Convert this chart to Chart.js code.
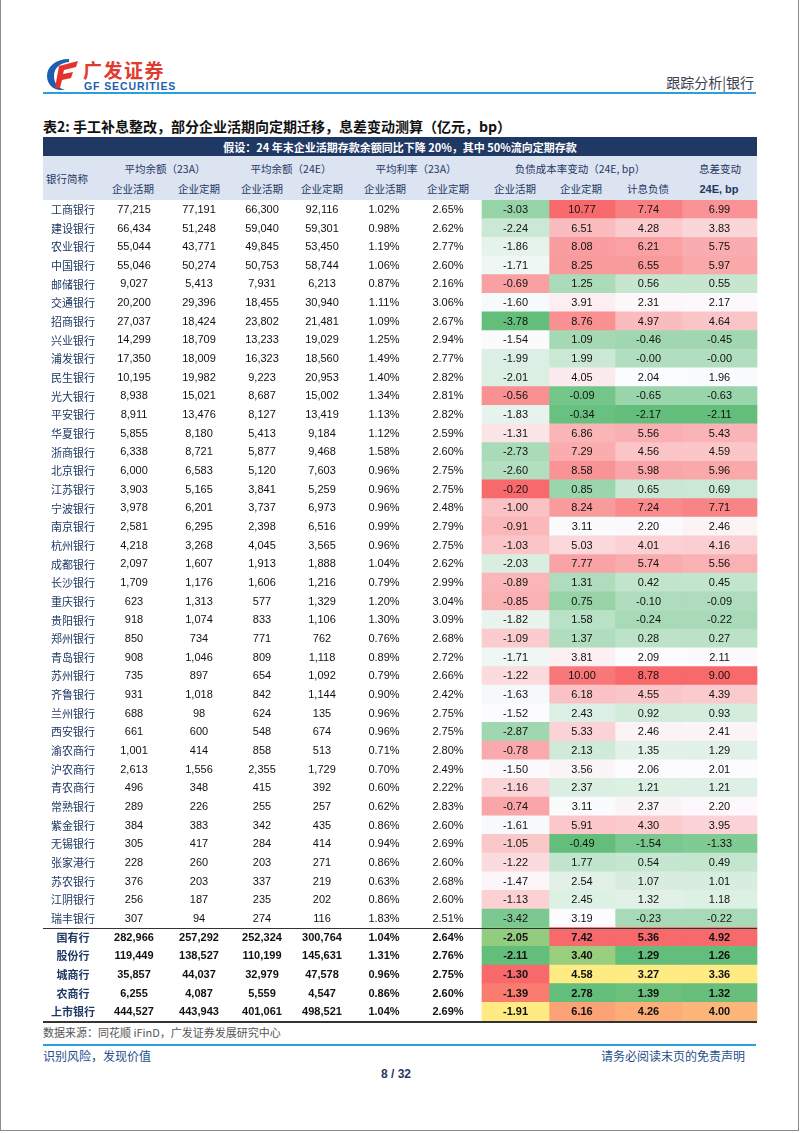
<!DOCTYPE html>
<html>
<head>
<meta charset="utf-8">
<script src="https://cdn.jsdelivr.net/npm/chart.js@4.4.1/dist/chart.umd.min.js"></script>
<style>
  body { margin: 0; background: #fff; }
  #page { position: relative; width: 802px; height: 1133px; overflow: hidden; font-family: "Noto Sans CJK SC", sans-serif; }
  .t { position: absolute; white-space: nowrap; line-height: 1; }
  .c { transform: translate(-50%, -50%); }
  .hd { font-size: 10.5px; color: #1f3864; }
  .num { font-family: "Liberation Sans", Arial, sans-serif; }
  #frame { position: absolute; left: 0; top: -2px; width: 797px; height: 1132px; border: 1px solid #8a8a8a; border-top: none; }
  #tbl { position: absolute; left: 0; top: 200px; }
</style>
</head>
<body>
<div id="page">
  <div id="frame"></div>

  <!-- logo -->
  <svg class="t" style="left:45px;top:57px" width="36" height="34" viewBox="0 0 36 34">
    <path d="M24 2 C10 2 2 10 2 19 C2 27 8 33 16 33 L20 33 C12 31 9 25 9 19 C9 11 15 6 24 5 Z" fill="#1d5fae"/>
    <path d="M14 9 L33 4 L31 10 L19 13 L18 17 L28 15 L26 21 L17 23 L15 31 L10 31 Z" fill="#e6322b"/>
  </svg>
  <div class="t" style="left:83px;top:60px;font-size:19px;font-weight:bold;color:#e23a2e;letter-spacing:1.5px">广发证券</div>
  <div class="t num" style="left:84px;top:81px;font-size:10.5px;font-weight:bold;color:#1d5fae;letter-spacing:0.9px">GF SECURITIES</div>
  <div class="t" style="right:48px;top:75px;font-size:14px;color:#3a4050">跟踪分析|银行</div>
  <div class="t" style="left:43px;top:92px;width:713px;height:2px;background:#2b9fd8"></div>

  <!-- title -->
  <div class="t" style="left:43px;top:119px;font-size:14px;font-weight:bold;color:#111">表2: 手工补息整改，部分企业活期向定期迁移，息差变动测算（亿元，bp）</div>

  <!-- header -->
  <div class="t" style="left:43px;top:137px;width:714px;height:19px;background:#1f3864"></div>
  <div class="t c" style="left:400px;top:147px;font-size:11px;font-weight:bold;color:#fff">假设：24 年末企业活期存款余额同比下降 20%，其中 50%流向定期存款</div>
  <div class="t" style="left:43px;top:156px;width:714px;height:44px;background:#dce3f1"></div>

  <div class="t c hd" style="left:67px;top:179px">银行简称</div>
  <div class="t c hd" style="left:165px;top:169px">平均余额（23A）</div>
  <div class="t c hd" style="left:291px;top:169px">平均余额（24E）</div>
  <div class="t c hd" style="left:416px;top:169px">平均利率（23A）</div>
  <div class="t c hd" style="left:580px;top:169px">负债成本率变动（24E, bp）</div>
  <div class="t c hd" style="left:720px;top:169px">息差变动</div>

  <div class="t c hd" style="left:133px;top:189px">企业活期</div>
  <div class="t c hd" style="left:199px;top:189px">企业定期</div>
  <div class="t c hd" style="left:262px;top:189px">企业活期</div>
  <div class="t c hd" style="left:322px;top:189px">企业定期</div>
  <div class="t c hd" style="left:385px;top:189px">企业活期</div>
  <div class="t c hd" style="left:448px;top:189px">企业定期</div>
  <div class="t c hd" style="left:515px;top:189px">企业活期</div>
  <div class="t c hd" style="left:581px;top:189px">企业定期</div>
  <div class="t c hd" style="left:648px;top:189px">计息负债</div>
  <div class="t c hd num" style="left:719px;top:189px;font-size:11px;font-weight:bold">24E, bp</div>

  <canvas id="tbl" width="802" height="824"></canvas>

  <!-- footer -->
  <div class="t" style="left:43px;top:1027px;font-size:11px;color:#555">数据来源：同花顺 iFinD，广发证券发展研究中心</div>
  <div class="t" style="left:43px;top:1044px;width:713px;height:2px;background:#2b9fd8"></div>
  <div class="t" style="left:43px;top:1050px;font-size:12px;color:#1f4e8c">识别风险，发现价值</div>
  <div class="t" style="right:57px;top:1050px;font-size:12px;color:#1f4e8c">请务必阅读末页的免责声明</div>
  <div class="t c num" style="left:396px;top:1074px;font-size:12px;font-weight:bold;color:#1f3864">8 / 32</div>
</div>

<script>
// rows: 39 listed banks followed by 5 group totals
const banks = ['工商银行','建设银行','农业银行','中国银行','邮储银行','交通银行','招商银行','兴业银行','浦发银行','民生银行',
  '光大银行','平安银行','华夏银行','浙商银行','北京银行','江苏银行','宁波银行','南京银行','杭州银行','成都银行',
  '长沙银行','重庆银行','贵阳银行','郑州银行','青岛银行','苏州银行','齐鲁银行','兰州银行','西安银行','渝农商行',
  '沪农商行','青农商行','常熟银行','紫金银行','无锡银行','张家港行','苏农银行','江阴银行','瑞丰银行',
  '国有行','股份行','城商行','农商行','上市银行'];
const groupRows = 5;

const demand23 = [77215,66434,55044,55046,9027,20200,27037,14299,17350,10195,8938,8911,5855,6338,6000,3903,3978,2581,4218,2097,
  1709,623,918,850,908,735,931,688,661,1001,2613,496,289,384,305,228,376,256,307,
  282966,119449,35857,6255,444527];
const time23 = [77191,51248,43771,50274,5413,29396,18424,18709,18009,19982,15021,13476,8180,8721,6583,5165,6201,6295,3268,1607,
  1176,1313,1074,734,1046,897,1018,98,600,414,1556,348,226,383,417,260,203,187,94,
  257292,138527,44037,4087,443943];
const demand24 = [66300,59040,49845,50753,7931,18455,23802,13233,16323,9223,8687,8127,5413,5877,5120,3841,3737,2398,4045,1913,
  1606,577,833,771,809,654,842,624,548,858,2355,415,255,342,284,203,337,235,274,
  252324,110199,32979,5559,401061];
const time24 = [92116,59301,53450,58744,6213,30940,21481,19029,18560,20953,15002,13419,9184,9468,7603,5259,6973,6516,3565,1888,
  1216,1329,1106,762,1118,1092,1144,135,674,513,1729,392,257,435,414,271,219,202,116,
  300764,145631,47578,4547,498521];
const rateDemand = [1.02,0.98,1.19,1.06,0.87,1.11,1.09,1.25,1.49,1.40,1.34,1.13,1.12,1.58,0.96,0.96,0.96,0.99,0.96,1.04,
  0.79,1.20,1.30,0.76,0.89,0.79,0.90,0.96,0.96,0.71,0.70,0.60,0.62,0.86,0.94,0.86,0.63,0.86,1.83,
  1.04,1.31,0.96,0.86,1.04];
const rateTime = [2.65,2.62,2.77,2.60,2.16,3.06,2.67,2.94,2.77,2.82,2.81,2.82,2.59,2.60,2.75,2.75,2.48,2.79,2.75,2.62,
  2.99,3.04,3.09,2.68,2.72,2.66,2.42,2.75,2.75,2.80,2.49,2.22,2.83,2.60,2.69,2.60,2.68,2.60,2.51,
  2.64,2.76,2.75,2.60,2.69];
const costDemand = [-3.03,-2.24,-1.86,-1.71,-0.69,-1.60,-3.78,-1.54,-1.99,-2.01,-0.56,-1.83,-1.31,-2.73,-2.60,-0.20,-1.00,-0.91,-1.03,-2.03,
  -0.89,-0.85,-1.82,-1.09,-1.71,-1.22,-1.63,-1.52,-2.87,-0.78,-1.50,-1.16,-0.74,-1.61,-1.05,-1.22,-1.47,-1.13,-3.42,
  -2.05,-2.11,-1.30,-1.39,-1.91];
const costTime = [10.77,6.51,8.08,8.25,1.25,3.91,8.76,1.09,1.99,4.05,-0.09,-0.34,6.86,7.29,8.58,0.85,8.24,3.11,5.03,7.77,
  1.31,0.75,1.58,1.37,3.81,10.00,6.18,2.43,5.33,2.13,3.56,2.37,3.11,5.91,-0.49,1.77,2.54,2.45,3.19,
  7.42,3.40,4.58,2.78,6.16];
const costTotal = [7.74,4.28,6.21,6.55,0.56,2.31,4.97,-0.46,-0.004,2.04,-0.65,-2.17,5.56,4.56,5.98,0.65,7.24,2.20,4.01,5.74,
  0.42,-0.10,-0.24,0.28,2.09,8.78,4.55,0.92,2.46,1.35,2.06,1.21,2.37,4.30,-1.54,0.54,1.07,1.32,-0.23,
  5.36,1.29,3.27,1.39,4.26];
const nimChange = [6.99,3.83,5.75,5.97,0.55,2.17,4.64,-0.45,-0.004,1.96,-0.63,-2.11,5.43,4.59,5.96,0.69,7.71,2.46,4.16,5.56,
  0.45,-0.09,-0.22,0.27,2.11,9.00,4.39,0.93,2.41,1.29,2.01,1.21,2.20,3.95,-1.33,0.49,1.01,1.18,-0.22,
  4.92,1.26,3.36,1.32,4.00];

// layout of columns (page pixels)
const bankCount = banks.length - groupRows;
const textCols = [
  { x: 134, vals: demand23, fmt: v => v.toLocaleString('en-US') },
  { x: 199, vals: time23, fmt: v => v.toLocaleString('en-US') },
  { x: 262, vals: demand24, fmt: v => v.toLocaleString('en-US') },
  { x: 322, vals: time24, fmt: v => v.toLocaleString('en-US') },
  { x: 384, vals: rateDemand, fmt: v => v.toFixed(2) + '%' },
  { x: 448, vals: rateTime, fmt: v => v.toFixed(2) + '%' }
];
const heatCols = [
  { x0: 482, x1: 549, vals: costDemand },
  { x0: 549, x1: 615, vals: costTime },
  { x0: 615, x1: 682, vals: costTotal },
  { x0: 682, x1: 757, vals: nimChange }
];

const GREEN = [99, 190, 123], WHITE = [252, 252, 255], YELLOW = [255, 235, 132], RED = [248, 105, 107];

function median(arr) {
  const s = [...arr].sort((a, b) => a - b);
  const p = (s.length - 1) / 2, lo = Math.floor(p), hi = Math.ceil(p);
  return s[lo] + (s[hi] - s[lo]) * (p - lo);
}
function mix(a, b, t) {
  return 'rgb(' + a.map((c, i) => Math.round(c + (b[i] - c) * t)).join(',') + ')';
}
function colorScale(vals, mid) {
  const min = Math.min(...vals), max = Math.max(...vals), m = median(vals);
  return vals.map(v => v <= m
    ? mix(GREEN, mid, m === min ? 1 : (v - min) / (m - min))
    : mix(mid, RED, (v - m) / (max - m)));
}

const datasets = heatCols.map(col => {
  const colors = colorScale(col.vals.slice(0, bankCount), WHITE)
    .concat(colorScale(col.vals.slice(bankCount), YELLOW));
  return {
    data: banks.map(() => [col.x0, col.x1]),
    backgroundColor: colors,
    borderWidth: 0,
    grouped: false,
    barPercentage: 1,
    categoryPercentage: 1
  };
});

const tableText = {
  id: 'tableText',
  afterDatasetsDraw(chart) {
    const { ctx, scales: { x, y }, chartArea } = chart;
    ctx.save();
    ctx.textAlign = 'center';
    ctx.textBaseline = 'middle';
    banks.forEach((name, i) => {
      const py = y.getPixelForValue(i) + 0.5;
      const bold = i >= bankCount ? 'bold ' : '';
      ctx.fillStyle = '#1f3864';
      ctx.font = bold + '11px "Noto Sans CJK SC"';
      ctx.fillText(name, x.getPixelForValue(73), py);
      ctx.fillStyle = '#111';
      ctx.font = bold + '11px "Liberation Sans", Arial';
      textCols.forEach(col => ctx.fillText(col.fmt(col.vals[i]), x.getPixelForValue(col.x), py));
      heatCols.forEach(col => ctx.fillText(col.vals[i].toFixed(2), x.getPixelForValue((col.x0 + col.x1) / 2), py));
    });
    // separator between banks and group totals, and bottom rule
    const sep = Math.round((y.getPixelForValue(bankCount - 1) + y.getPixelForValue(bankCount)) / 2) + 0.5;
    ctx.strokeStyle = '#333';
    ctx.lineWidth = 1;
    ctx.beginPath();
    ctx.moveTo(x.getPixelForValue(43), sep);
    ctx.lineTo(x.getPixelForValue(757), sep);
    ctx.stroke();
    ctx.lineWidth = 2;
    ctx.beginPath();
    ctx.moveTo(x.getPixelForValue(43), chartArea.bottom + 1);
    ctx.lineTo(x.getPixelForValue(757), chartArea.bottom + 1);
    ctx.stroke();
    ctx.restore();
  }
};

new Chart(document.getElementById('tbl'), {
  type: 'bar',
  data: { labels: banks, datasets: datasets },
  options: {
    indexAxis: 'y',
    responsive: false,
    animation: false,
    devicePixelRatio: 1,
    layout: { padding: { left: 0, right: 0, top: 0, bottom: 3 } },
    scales: {
      x: { type: 'linear', min: 0, max: 802, display: false },
      y: { type: 'category', offset: true, display: false }
    },
    plugins: { legend: { display: false }, tooltip: { enabled: false } }
  },
  plugins: [tableText]
});
</script>
</body>
</html>
